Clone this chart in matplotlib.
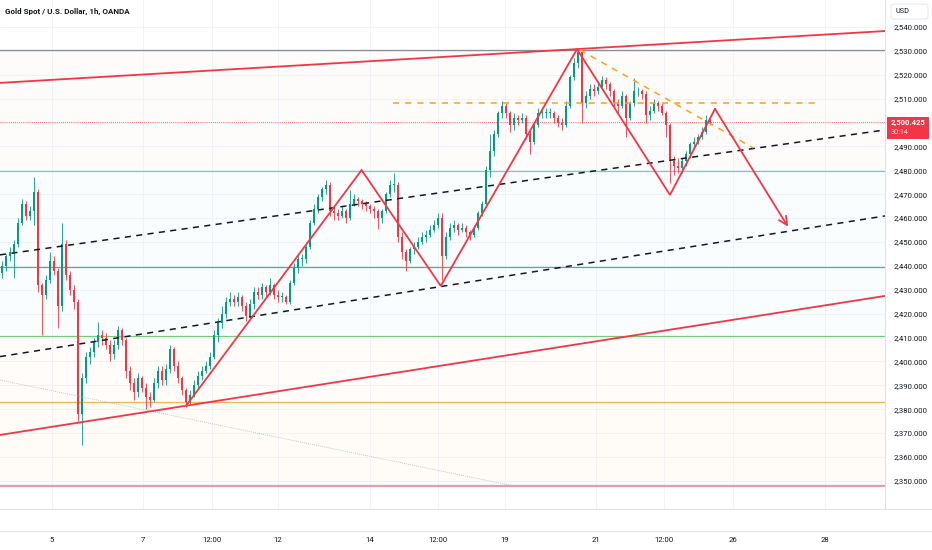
import matplotlib.pyplot as plt
from matplotlib.lines import Line2D
from matplotlib.patches import FancyBboxPatch, Rectangle

# XAU/USD, OANDA -- prices (2h bars, opens = previous close)
closes = [2440, 2444, 2446, 2449, 2458, 2466, 2461, 2463, 2471, 2432,
          2428, 2434, 2442, 2438, 2423, 2449, 2436, 2430, 2425, 2378,
          2393, 2402, 2404, 2408, 2411, 2410, 2407, 2403, 2407, 2413,
          2409, 2396, 2391, 2387, 2393, 2389, 2385, 2384, 2391, 2396,
          2392, 2397, 2405, 2398, 2393, 2388, 2383, 2386, 2390, 2394,
          2396, 2398, 2402, 2411, 2416, 2420, 2425, 2426, 2425, 2427,
          2423, 2419, 2424, 2429, 2428, 2431, 2429, 2432, 2428, 2427,
          2427, 2425, 2433, 2439, 2443, 2443, 2448, 2458, 2464, 2469,
          2472, 2474, 2463, 2462, 2461, 2463, 2460, 2466, 2468, 2467,
          2466, 2465, 2464, 2463, 2460, 2463, 2470, 2474, 2474, 2452,
          2446, 2442, 2447, 2448, 2450, 2452, 2453, 2455, 2457, 2460,
          2444, 2452, 2456, 2457, 2455, 2456, 2454, 2453, 2456, 2462,
          2466, 2480, 2488, 2495, 2504, 2507, 2504, 2499, 2502, 2501,
          2502, 2495, 2492, 2499, 2504, 2504, 2504, 2504, 2502, 2500,
          2499, 2507, 2519, 2525, 2529.5, 2508, 2511, 2514, 2513, 2515,
          2518, 2516, 2513, 2508, 2507, 2511, 2502, 2508, 2513, 2513,
          2512, 2503, 2505, 2508, 2507, 2504, 2499, 2484, 2482, 2481,
          2484, 2487, 2491, 2492, 2494, 2496, 2501, 2500.425]
highs = [2442, 2445, 2448, 2451, 2460, 2468, 2467, 2465, 2477, 2472,
         2433, 2436, 2446, 2444, 2439, 2458, 2451, 2438, 2432, 2426,
         2395, 2404, 2406, 2410, 2416.5, 2413, 2412, 2409, 2409, 2415,
         2414, 2410, 2398, 2393, 2395, 2394, 2391, 2387, 2393, 2398,
         2398, 2399, 2407, 2406, 2400, 2394, 2389, 2388, 2392, 2396,
         2398, 2400, 2404, 2413, 2418, 2423, 2427, 2429, 2428, 2429,
         2428, 2425, 2426, 2431, 2431, 2433, 2432, 2435, 2433, 2430,
         2429, 2428, 2434, 2441, 2445, 2445, 2450, 2459, 2466, 2470,
         2473, 2476, 2475, 2465, 2464, 2465, 2464, 2471.6, 2470, 2469,
         2468, 2467, 2466, 2465, 2464, 2464, 2471, 2476, 2479, 2475,
         2454, 2447, 2448, 2450, 2452, 2454, 2455, 2457, 2459, 2462,
         2462, 2454, 2458, 2459, 2458, 2458, 2457, 2455, 2457, 2463,
         2467, 2482, 2495, 2497, 2505, 2509, 2508, 2505, 2504, 2503,
         2504, 2503, 2497, 2500, 2506, 2506, 2506, 2506, 2505, 2503,
         2502, 2509, 2520, 2527, 2531, 2530, 2513, 2516, 2516, 2517,
         2519.5, 2519, 2517, 2514, 2510, 2513, 2512, 2509, 2518.5, 2515,
         2514, 2513, 2507, 2510, 2509, 2508, 2505, 2500, 2486, 2485,
         2485, 2488, 2492, 2494, 2495, 2498, 2503, 2502]
lows = [2435, 2438, 2442, 2435, 2448, 2457, 2459, 2459, 2457, 2429,
        2411, 2426, 2433, 2436, 2414, 2421, 2434, 2428, 2422, 2375,
        2365, 2391, 2399, 2402, 2406, 2407, 2405, 2400, 2401, 2405,
        2407, 2393, 2388, 2384, 2385, 2387, 2380, 2381, 2383, 2389,
        2390, 2390, 2395, 2396, 2391, 2386, 2381, 2382, 2385, 2389,
        2392, 2395, 2397, 2401, 2408, 2414, 2418, 2423, 2423, 2423,
        2421, 2417, 2418, 2422, 2426, 2426, 2427, 2428, 2426, 2425,
        2425, 2424, 2424, 2432, 2437, 2440, 2441, 2447, 2457, 2462,
        2467, 2470, 2461, 2459, 2459, 2460, 2458, 2459, 2465, 2465,
        2464, 2463, 2462, 2460, 2455.6, 2458, 2462, 2469, 2471, 2450,
        2443, 2438, 2441, 2445, 2447, 2449, 2450, 2452, 2454, 2456,
        2434, 2443, 2451, 2454, 2453, 2454, 2452, 2451, 2452, 2455,
        2461, 2465, 2477, 2486, 2494, 2502, 2502, 2496, 2497, 2499,
        2500, 2493, 2487, 2491, 2498, 2502, 2502, 2502, 2500, 2498,
        2497, 2498, 2506, 2518, 2523, 2500, 2506, 2510, 2511, 2512,
        2514, 2514, 2511, 2506, 2504, 2506, 2494, 2501, 2507, 2511,
        2510, 2500, 2501, 2504, 2505, 2503, 2494, 2474.7, 2478, 2479,
        2479, 2482, 2485, 2489, 2491, 2493, 2495, 2499]
first_open = 2437

# time axis (bar index of each label)
tick_pos = [12.5, 35.25, 52.5, 69, 92, 109, 125.75, 148.5, 165.5, 182.75, 205.75]
tick_labels = ["5", "7", "12:00", "12", "14", "12:00", "19", "21", "12:00", "26", "28"]

# horizontal levels (fib-style) and their colours
level_prices = [2530.4, 2500.425, 2479.8, 2439.5, 2410.5, 2383.0, 2348.0]
level_colors = ["#8a8d96", "#f23645", "#5fd3e0", "#3fb5a6", "#7cc47f", "#f5b553", "#dba0b1"]
fill_colors = ["#f23645", "#f23645", "#00bcd4", "#00bcd4", "#ff9800", "#ff9800"]
fill_alpha = [0.018, 0.018, 0.025, 0.02, 0.02, 0.03]

# drawings: (bar, price) anchors
upper_channel = ([-0.5, 220.75], [2516.6, 2538.3])
lower_channel = ([-0.5, 220.75], [2369.2, 2427.4])
mid_dash_hi = ([-0.5, 220.75], [2444.6, 2496.9])
mid_dash_lo = ([-0.5, 220.75], [2402.0, 2460.9])
resist_dash = ([97.75, 204.5], [2508.2, 2508.2])
falling_dash = ([144.5, 187.75], [2530.4, 2489.4])
old_trend = ([-0.5, 127.75], [2392.2, 2347.9])
zig_x = [46.2, 89.9, 109.7, 143.75, 167, 178.25]
zig_y = [2381.8, 2480.1, 2431.6, 2530.7, 2469.7, 2505.7]
arrow_end = (196.5, 2456.4)

UP = "#089981"
DOWN = "#f23645"
RED = "#f23645"
TXT = "#131722"

W, H = 932, 550
fig = plt.figure(figsize=(W / 100, H / 100), dpi=100)
ax = fig.add_axes([0, 1 - 509 / H, 885 / W, 509 / H])
ax.set_xlim(-0.5, 220.75)
ax.set_ylim(2338.2, 2551.3)

# background bands between levels
for i in range(len(fill_colors)):
    ax.axhspan(level_prices[i + 1], level_prices[i], color=fill_colors[i],
               alpha=fill_alpha[i], lw=0, zorder=0)

for p, c in zip(level_prices, level_colors):
    if p == 2500.425:
        ax.axhline(p, color=c, lw=0.6, ls=(0, (1, 1.5)), zorder=1)
    elif p == 2348.0:
        ax.axhline(p, color=c, lw=1.6, zorder=1)
    else:
        ax.axhline(p, color=c, lw=0.9, zorder=1)

# candles
opens = [first_open] + closes[:-1]
xs = list(range(len(closes)))
cols = [UP if c >= o else DOWN for o, c in zip(opens, closes)]
ax.vlines(xs, lows, highs, colors=cols, lw=0.6, zorder=2)
bottoms = [min(o, c) for o, c in zip(opens, closes)]
heights = [max(abs(c - o), 0.4) for o, c in zip(opens, closes)]
ax.bar(xs, heights, bottom=bottoms, width=0.62, color=cols, lw=0, zorder=2)

# drawings
ax.plot(*old_trend, color="#b2b5be", lw=0.6, ls=(0, (1, 1.5)), zorder=3)
ax.plot(*upper_channel, color=RED, lw=1.3, zorder=3)
ax.plot(*lower_channel, color=RED, lw=1.3, zorder=3)
ax.plot(*mid_dash_hi, color="#131722", lw=1.1, ls=(0, (4, 3.5)), zorder=3)
ax.plot(*mid_dash_lo, color="#131722", lw=1.1, ls=(0, (4, 3.5)), zorder=3)
ax.plot(*resist_dash, color="#f7a21b", lw=1.1, ls=(0, (4, 4)), zorder=3)
ax.plot(*falling_dash, color="#f7a21b", lw=1.1, ls=(0, (4, 4)), zorder=3)
ax.plot(zig_x, zig_y, color=RED, lw=1.3, zorder=4, solid_joinstyle="miter")
ax.annotate("", xy=arrow_end, xytext=(zig_x[-1], zig_y[-1]),
            arrowprops=dict(arrowstyle="->", color=RED, lw=1.3,
                            mutation_scale=15, shrinkA=0, shrinkB=0), zorder=4)


def price_fmt(v, _):
    # the 2,500 label sits under the last-price tag
    if abs(v - 2500) < 1e-6:
        return ""
    return f"{v:,.3f}"


# axes styling
ax.set_xticks(tick_pos)
ax.set_xticklabels(tick_labels)
ax.set_yticks(range(2350, 2550, 10))
ax.yaxis.tick_right()
ax.yaxis.set_major_formatter(plt.FuncFormatter(price_fmt))
ax.tick_params(axis="y", length=0, pad=6, labelsize=5.6, labelcolor=TXT)
ax.tick_params(axis="x", length=0, pad=20, labelsize=5.6, labelcolor=TXT)
for lab in ax.get_xticklabels() + ax.get_yticklabels():
    lab.set_fontfamily("Roboto")
ax.grid(color="#eef1f7", lw=0.6)
ax.set_axisbelow(True)
for s in ["top", "left", "bottom"]:
    ax.spines[s].set_visible(False)
ax.spines["right"].set_color("#e0e3eb")
ax.spines["right"].set_linewidth(0.8)

fig.add_artist(Line2D([0, 1], [1 - 509 / H] * 2, color="#e0e3eb", lw=0.8))
fig.add_artist(Line2D([0, 1], [1 - 531 / H] * 2, color="#e0e3eb", lw=0.8))

fig.text(5 / W, 1 - 11 / H, "Gold Spot / U.S. Dollar, 1h, OANDA", fontsize=5.8,
         fontweight="bold", family="Roboto", color=TXT, va="center")

# USD box
fig.add_artist(FancyBboxPatch((891 / W, 1 - 19 / H), 37 / W, 15 / H,
                              boxstyle="round,pad=0,rounding_size=0.004",
                              transform=fig.transFigure, fc="white", ec="#e0e3eb", lw=0.6))
fig.text(895 / W, 1 - 11.5 / H, "USD", fontsize=5.2, family="Roboto", color=TXT, va="center")

# last price tag
fig.add_artist(Rectangle((887 / W, 1 - 139 / H), 42 / W, 22 / H,
                         transform=fig.transFigure, fc=RED, ec="none"))
fig.text(891 / W, 1 - 123 / H, "2,500.425", fontsize=5.5, family="Roboto",
         fontweight="bold", color="white", va="center")
fig.text(891 / W, 1 - 133 / H, "30:14", fontsize=5.2, family="Roboto",
         color="#ffd6da", va="center")

fig.savefig("out.png", dpi=100, facecolor="white")
